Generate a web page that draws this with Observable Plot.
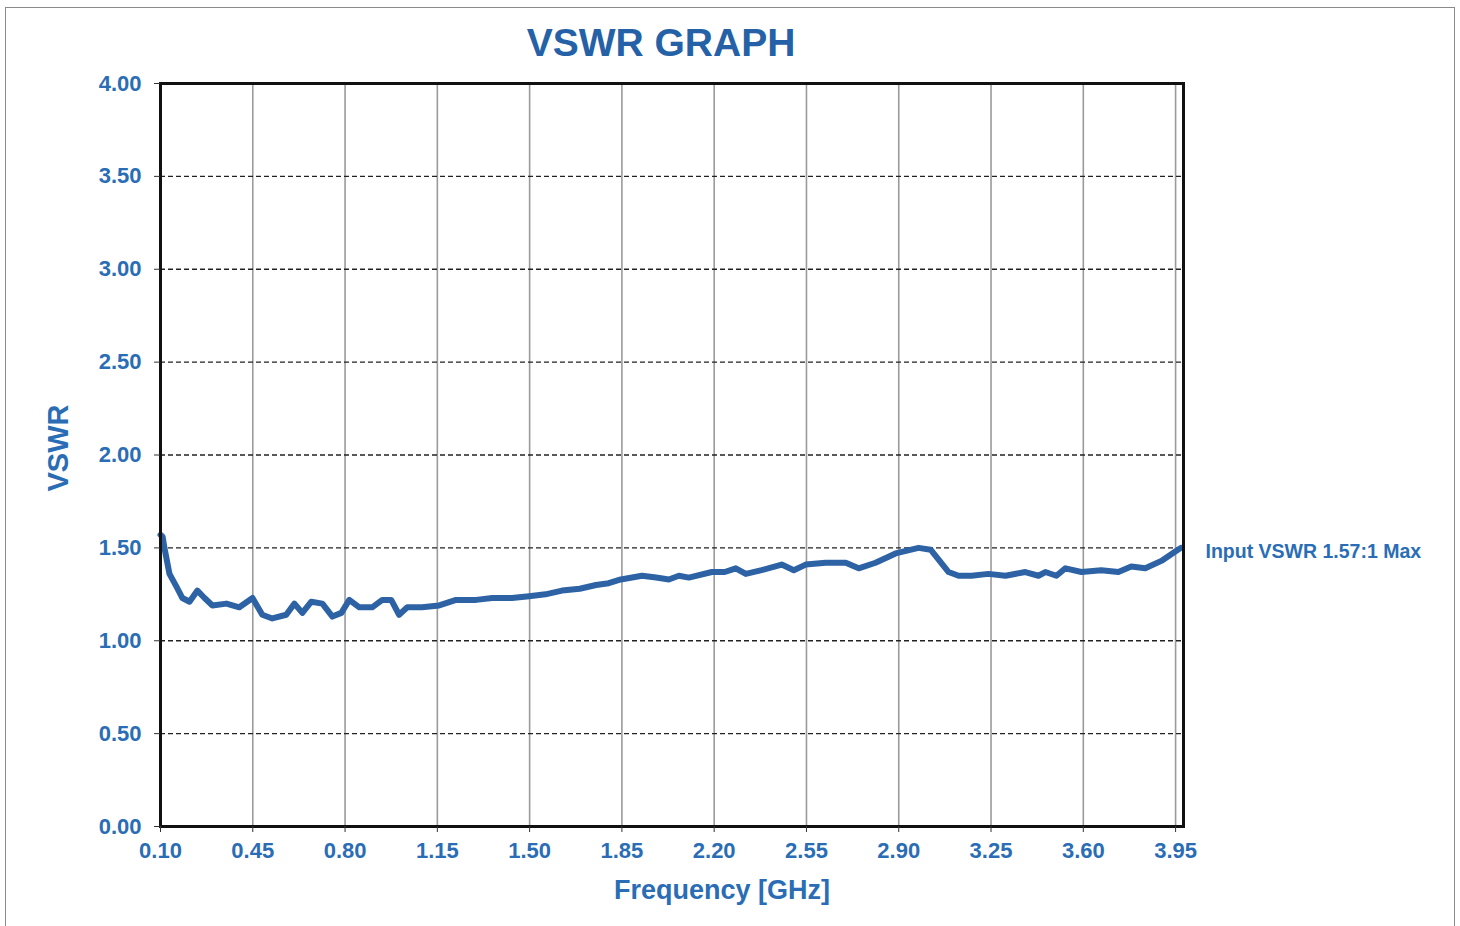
<!DOCTYPE html>
<html><head><meta charset="utf-8">
<script src="https://cdn.jsdelivr.net/npm/d3@7"></script>
<script src="https://cdn.jsdelivr.net/npm/@observablehq/plot@0.6"></script>
<style>
body{margin:0;background:#fff;overflow:hidden;}
#border{position:absolute;left:5px;top:7px;width:1448px;height:940px;border:1px solid #8a8a8a;}
#chart{position:absolute;left:0;top:0;}
</style>
</head><body><div id="border"></div><div id="chart"></div>
<script>
const freq = [0.10,0.108,0.115,0.134,0.161,0.183,0.210,0.240,0.267,0.297,0.350,0.399,0.449,0.486,0.524,0.577,0.608,0.638,0.672,0.714,0.752,0.786,0.816,0.854,0.903,0.941,0.975,1.005,1.036,1.092,1.157,1.221,1.297,1.358,1.433,1.498,1.560,1.623,1.690,1.752,1.800,1.846,1.926,1.980,2.028,2.066,2.104,2.191,2.240,2.282,2.320,2.380,2.456,2.502,2.547,2.623,2.699,2.748,2.812,2.888,2.975,3.021,3.089,3.127,3.176,3.240,3.305,3.380,3.430,3.456,3.498,3.532,3.593,3.668,3.733,3.782,3.835,3.896,3.949,3.97];
const vswr = [1.57,1.56,1.50,1.36,1.29,1.23,1.21,1.27,1.23,1.19,1.20,1.18,1.23,1.14,1.12,1.14,1.20,1.15,1.21,1.20,1.13,1.15,1.22,1.18,1.18,1.22,1.22,1.14,1.18,1.18,1.19,1.22,1.22,1.23,1.23,1.24,1.25,1.27,1.28,1.30,1.31,1.33,1.35,1.34,1.33,1.35,1.34,1.37,1.37,1.39,1.36,1.38,1.41,1.38,1.41,1.42,1.42,1.39,1.42,1.47,1.50,1.49,1.37,1.35,1.35,1.36,1.35,1.37,1.35,1.37,1.35,1.39,1.37,1.38,1.37,1.40,1.39,1.43,1.48,1.50];
const xTicks = [0.10,0.45,0.80,1.15,1.50,1.85,2.20,2.55,2.90,3.25,3.60,3.95];
const yTicks = [0.00,0.50,1.00,1.50,2.00,2.50,3.00,3.50,4.00];
const titleText = ["VSWR GRAPH"];
const xLabel = ["Frequency [GHz]"];
const yLabel = ["VSWR"];
const annotation = [{y: 1.48, text: "Input VSWR 1.57:1 Max"}];

const data = freq.map((f, i) => ({f, v: vswr[i]}));
const blue = "#2a6db5";
const font = "'Liberation Sans', Arial, sans-serif";

const plot = Plot.plot({
  width: 1460, height: 926,
  marginLeft: 160, marginTop: 83, marginRight: 277, marginBottom: 100,
  style: {fontFamily: font, fontWeight: "bold", background: "transparent", overflow: "visible"},
  x: {domain: [0.1, 3.98]},
  y: {domain: [0, 4]},
  marks: [
    Plot.ruleX(xTicks.slice(1), {stroke: "#9a9a9a", strokeWidth: 1.6}),
    Plot.ruleY(yTicks.slice(1, -1), {stroke: "#222", strokeWidth: 1.4, strokeDasharray: "5,3"}),
    Plot.line(data, {x: "f", y: "v", stroke: "#2d63a5", strokeWidth: 6, strokeLinejoin: "round", strokeLinecap: "round"}),
    Plot.frame({stroke: "#111", strokeWidth: 3}),
    Plot.axisX(xTicks, {tickSize: 6, tickPadding: 10, fontSize: 22, fill: blue, stroke: "#333", tickFormat: d => d.toFixed(2), label: null}),
    Plot.axisY(yTicks, {tickSize: 6, tickPadding: 13, fontSize: 22, fill: blue, stroke: "#333", tickFormat: d => d.toFixed(2), label: null}),
    Plot.text(titleText, {frameAnchor: "top", lineAnchor: "middle", dx: -11, dy: -40, fontSize: 39, fontWeight: "bold", fill: "#2461a6", text: d => d}),
    Plot.text(xLabel, {frameAnchor: "bottom", lineAnchor: "middle", dx: 50, dy: 64, fontSize: 27, fontWeight: "bold", fill: blue, text: d => d}),
    Plot.text(yLabel, {frameAnchor: "left", dx: -102, dy: -7, rotate: -90, textAnchor: "middle", fontSize: 29, fontWeight: "bold", fill: blue, text: d => d}),
    Plot.text(annotation, {frameAnchor: "right", y: "y", text: "text", dx: 22, textAnchor: "start", fontSize: 19.5, fontWeight: "bold", fill: blue})
  ]
});
document.getElementById("chart").appendChild(plot);
</script>
</body></html>
